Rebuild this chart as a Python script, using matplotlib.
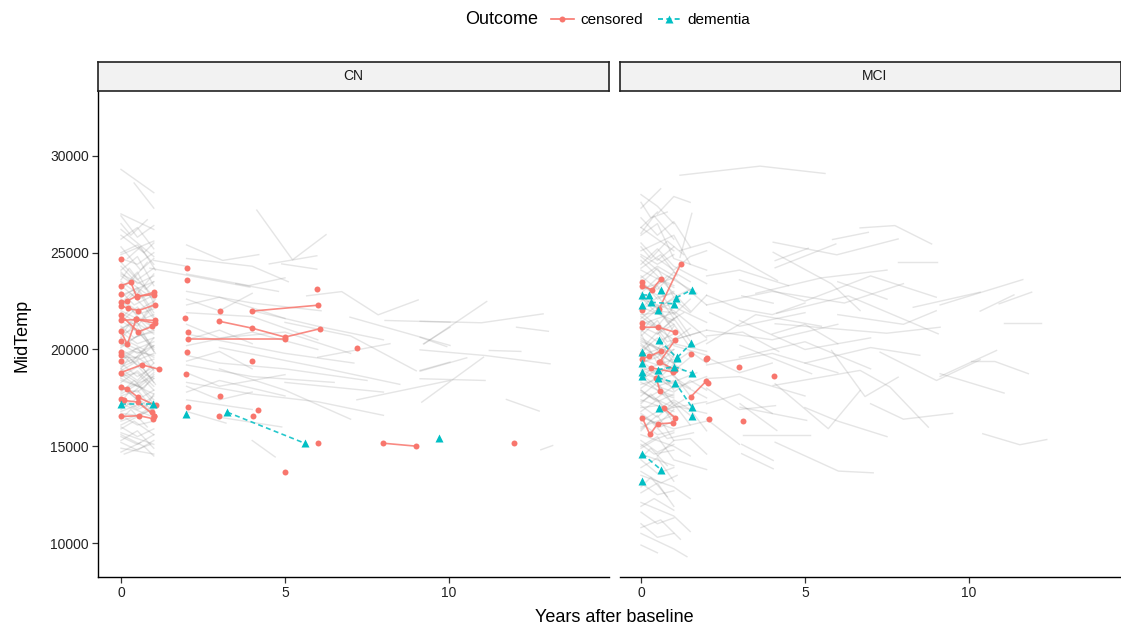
import matplotlib.pyplot as plt
from matplotlib.lines import Line2D

plt.rcParams['font.family'] = ['Liberation Sans', 'DejaVu Sans']

RED = '#F8766D'
TEAL = '#00BFC4'
GREY = '#7f7f7f'

panels = ['CN', 'MCI']
x_ticks = [0, 5, 10]
y_ticks = [10000, 15000, 20000, 25000, 30000]

# grey trajectories, one list of (years, MidTemp) per subject
cn_grey = [
    [(0, 29300), (1.0, 28100)], [(0.4, 28600), (1.0, 27300)],
    [(0, 26900), (0.5, 25800), (1.0, 26400)], [(0, 26200), (1.0, 24800)],
    [(0, 25700), (0.5, 26300), (1.0, 25200)], [(0, 25300), (0.6, 24100), (1.0, 24700)],
    [(0, 24900), (1.0, 25600)], [(0, 24500), (0.5, 23600), (1.0, 24200)],
    [(0, 24100), (0.5, 24800), (1.0, 23300)], [(0, 23800), (1.0, 22600)],
    [(0, 23500), (0.5, 22900), (1.0, 23900)], [(0, 23100), (0.5, 24000), (1.0, 22400)],
    [(0, 22800), (1.0, 23500)], [(0, 22500), (0.5, 21800), (1.0, 22100)],
    [(0, 22200), (0.5, 23100), (1.0, 21700)], [(0, 21900), (1.0, 20800)],
    [(0, 21700), (0.5, 21200), (1.0, 22300)], [(0, 21400), (0.5, 22200), (1.0, 21000)],
    [(0, 21100), (1.0, 21800)], [(0, 20900), (0.5, 20300), (1.0, 20600)],
    [(0, 20600), (0.5, 21400), (1.0, 19900)], [(0, 20400), (1.0, 19600)],
    [(0, 20100), (0.5, 20700), (1.0, 20900)], [(0, 19900), (0.5, 19200), (1.0, 19500)],
    [(0, 19700), (1.0, 20400)], [(0, 19500), (0.5, 20100), (1.0, 18900)],
    [(0, 19300), (0.5, 18600), (1.0, 19100)], [(0, 19100), (1.0, 19800)],
    [(0, 18900), (0.5, 19400), (1.0, 18300)], [(0, 18700), (0.5, 18100), (1.0, 18800)],
    [(0, 18500), (1.0, 17700)], [(0, 18300), (0.5, 18900), (1.0, 18100)],
    [(0, 18100), (0.5, 17400), (1.0, 17900)], [(0, 17900), (1.0, 18600)],
    [(0, 17700), (0.5, 18200), (1.0, 17200)], [(0, 17400), (0.5, 16900), (1.0, 17300)],
    [(0, 17200), (1.0, 16500)], [(0, 16900), (0.5, 17500), (1.0, 16800)],
    [(0, 16600), (0.5, 16100), (1.0, 16300)], [(0, 16300), (1.0, 16900)],
    [(0, 16000), (0.5, 15500), (1.0, 15900)], [(0, 15700), (1.0, 15100)],
    [(0, 15300), (0.5, 15800), (1.0, 14900)], [(0, 14900), (1.0, 14600)],
    [(0.1, 14600), (0.9, 15100)], [(0, 23300), (0.5, 22600), (1.0, 22900)],
    [(0, 22700), (0.5, 23200), (1.0, 21900)], [(0, 21500), (0.5, 20900), (1.0, 21300)],
    [(0, 20800), (0.5, 21100), (1.0, 20100)], [(0, 20300), (0.5, 19800), (1.0, 20200)],
    [(0, 19600), (0.5, 19600), (1.0, 19000)], [(0, 19000), (0.5, 18400), (1.0, 19300)],
    [(0, 18600), (0.5, 18800), (1.0, 17900)], [(0, 18000), (0.5, 17800), (1.0, 18500)],
    [(0, 17500), (0.5, 17000), (1.0, 17600)], [(0, 16700), (0.5, 16600), (1.0, 17100)],
    [(0, 24300), (0.5, 23400), (1.0, 23800)], [(0, 25000), (0.5, 25400), (1.0, 24400)],
    [(0, 27000), (1.0, 26200)], [(0, 15500), (0.5, 15100), (1.0, 15600)],
    [(0, 26500), (0.3, 25900), (0.8, 26700)], [(0, 25900), (0.7, 25000), (1.0, 25500)],
    [(0.2, 24700), (0.6, 25300), (1.05, 24100)], [(0, 24000), (0.3, 23500), (0.8, 24500)],
    [(0, 23600), (0.25, 24200), (0.75, 23100), (1.0, 23500)],
    [(0, 23000), (0.4, 22300), (1.0, 22800)],
    [(0, 22400), (0.3, 22900), (0.7, 22200), (1.0, 21600)],
    [(0, 22000), (0.6, 21500), (1.05, 22600)], [(0, 21600), (0.3, 22100), (0.8, 21100)],
    [(0, 21200), (0.4, 20600), (1.0, 21000)],
    [(0, 20700), (0.25, 21300), (0.75, 20500), (1.0, 20000)],
    [(0, 20200), (0.6, 20800), (1.05, 19800)], [(0, 19800), (0.3, 19300), (0.8, 20200)],
    [(0, 19400), (0.4, 19900), (1.0, 19700)],
    [(0, 19000), (0.25, 19600), (0.75, 18700), (1.0, 18500)],
    [(0, 18600), (0.6, 19200), (1.05, 18200)], [(0, 18200), (0.3, 17700), (0.8, 18400)],
    [(0, 17800), (0.4, 18400), (1.0, 17400)],
    [(0, 17300), (0.25, 17800), (0.75, 17000), (1.0, 17700)],
    [(0, 16800), (0.6, 17200), (1.05, 16600)], [(0, 16400), (0.3, 16900), (0.8, 16000)],
    [(0, 15900), (0.4, 16300), (1.0, 15600)], [(0, 15200), (0.5, 14800), (1.0, 15300)],
    [(0, 14700), (0.6, 15200)], [(0, 21000), (0.5, 21700), (1.0, 21100)],
    [(0, 20000), (0.5, 19500), (1.0, 20600)], [(0, 18800), (0.5, 18300), (1.0, 19000)],
    [(0, 17600), (0.5, 17900), (1.0, 16900)], [(0, 22600), (0.5, 22000), (1.0, 22500)],
    [(0, 24700), (0.5, 24400), (1.0, 25000)], [(0, 19200), (0.7, 19800), (1.0, 20200)],
    [(0, 20600), (0.7, 20000), (1.0, 19300)], [(0, 18400), (0.7, 18000), (1.0, 18700)],
    [(0, 16100), (0.7, 16700), (1.0, 17000)], [(0, 23900), (0.7, 23300), (1.0, 22700)],
    [(0, 15600), (0.7, 15000), (1.0, 14500)],
    [(0.88, 24200), (3.93, 23220)], [(1.0, 24600), (2.0, 24300)],
    [(4.14, 27200), (5.23, 24630), (6.25, 25930)], [(4.52, 24420), (5.97, 24840)],
    [(4.9, 24420), (5.97, 24150)], [(2.0, 25400), (3.1, 24600), (4.2, 24900)],
    [(2.0, 24700), (4.0, 24300), (5.1, 23500)], [(2.0, 23900), (3.9, 23300), (5.0, 23700)],
    [(3.5, 23400), (4.8, 23000)],
    [(5.66, 22770), (6.73, 22990), (7.84, 21790), (9.06, 22560)],
    [(6.98, 21670), (10.03, 20210)], [(8.05, 21500), (10.03, 21410)],
    [(9.22, 20290), (10.03, 21150)], [(9.24, 20290), (11.15, 22480)],
    [(9.12, 21460), (10.99, 21380), (12.87, 21840)], [(12.06, 21150), (13.03, 20940)],
    [(9.12, 20630), (9.93, 20150)], [(9.12, 19980), (11.1, 19690), (13.08, 19260)],
    [(11.23, 19950), (12.19, 19900)], [(9.12, 18880), (10.54, 19570)],
    [(9.12, 18490), (11.1, 18400)], [(9.17, 17280), (11.05, 19600)],
    [(11.75, 17420), (12.75, 16820)], [(12.8, 14820), (13.16, 15040)],
    [(7.19, 17400), (10.03, 18400)], [(9.12, 18920), (10.03, 19350)],
    [(2.0, 23000), (4.0, 22400), (6.1, 22000)], [(2.0, 22300), (3.0, 22700), (5.0, 21600)],
    [(2.0, 21900), (4.0, 21700), (6.0, 20500)],
    [(2.0, 21300), (3.0, 20600), (5.0, 20900), (7.0, 19800)],
    [(2.0, 20800), (5.0, 19800), (7.1, 19300)], [(2.0, 20200), (4.0, 20900), (6.0, 20000)],
    [(2.0, 19700), (3.0, 19300), (5.0, 19000), (7.5, 18400)],
    [(2.0, 19200), (4.0, 18600), (6.5, 18300)], [(2.0, 18800), (3.0, 18100), (5.0, 18700)],
    [(2.0, 18300), (4.0, 17700), (6.0, 17300), (8.0, 16600)],
    [(2.0, 17800), (3.0, 18400), (5.0, 17600)], [(2.0, 17400), (4.0, 16900)],
    [(3.0, 20100), (6.0, 19100), (8.5, 18200)], [(3.0, 19000), (5.0, 17900), (7.0, 16400)],
    [(4.0, 22000), (6.0, 21200), (8.0, 20500)], [(5.0, 21400), (7.0, 20700), (9.0, 18900)],
    [(5.0, 18300), (8.0, 17800)], [(6.0, 19600), (8.2, 20300)],
    [(3.0, 16500), (4.9, 16000)], [(2.0, 16800), (3.2, 16200)],
    [(4.0, 15300), (4.7, 14450)],
    [(2.0, 22600), (3.0, 22000), (4.0, 22900)], [(2.0, 20500), (3.0, 21000), (4.0, 20300)],
    [(2.0, 19400), (3.0, 19900), (4.0, 19000)], [(2.0, 18100), (3.0, 17400), (4.0, 17800)],
]

mci_grey = [
    [(0, 28000), (0.5, 27400), (1.0, 26500)], [(0.0, 27300), (0.6, 28300)],
    [(0, 26800), (0.5, 25900), (1.0, 26600), (1.5, 25300)], [(0, 26300), (1.0, 25100)],
    [(0, 25900), (0.5, 26500), (1.0, 24700), (2.0, 24100)],
    [(0, 25500), (0.5, 24600), (1.0, 25300)], [(0, 25100), (1.0, 25900), (1.5, 24400)],
    [(0, 24800), (0.5, 24100), (1.0, 23600)],
    [(0, 24400), (0.5, 25200), (1.0, 24300), (2.0, 23400)], [(0, 24100), (1.0, 23200)],
    [(0, 23800), (0.5, 23100), (1.0, 24000), (1.5, 23500)],
    [(0, 23400), (0.5, 24200), (1.0, 22700)], [(0, 23100), (1.0, 23700), (2.0, 22300)],
    [(0, 22800), (0.5, 22100), (1.0, 22400)],
    [(0, 22500), (0.5, 23300), (1.0, 21800), (1.5, 22600)], [(0, 22200), (1.0, 21500)],
    [(0, 21900), (0.5, 21200), (1.0, 22200), (2.0, 21400)],
    [(0, 21600), (0.5, 22300), (1.0, 20900)], [(0, 21300), (1.0, 21900), (1.5, 20700)],
    [(0, 21000), (0.5, 20400), (1.0, 20800)],
    [(0, 20700), (0.5, 21500), (1.0, 20200), (2.0, 19700)], [(0, 20400), (1.0, 19800)],
    [(0, 20200), (0.5, 19600), (1.0, 20500), (1.5, 21100)],
    [(0, 19900), (0.5, 20600), (1.0, 19300)], [(0, 19700), (1.0, 20300), (2.0, 19900)],
    [(0, 19400), (0.5, 18800), (1.0, 19100)],
    [(0, 19200), (0.5, 19900), (1.0, 18600), (1.5, 18000)], [(0, 18900), (1.0, 19500)],
    [(0, 18700), (0.5, 18100), (1.0, 18400), (2.0, 17500)],
    [(0, 18400), (0.5, 19000), (1.0, 17900)], [(0, 18200), (1.0, 18700), (1.5, 17600)],
    [(0, 17900), (0.5, 17300), (1.0, 17700)],
    [(0, 17600), (0.5, 18300), (1.0, 17100), (2.0, 16700)], [(0, 17400), (1.0, 16800)],
    [(0, 17100), (0.5, 16500), (1.0, 17300), (1.5, 16600)],
    [(0, 16800), (0.5, 17400), (1.0, 16200)], [(0, 16500), (1.0, 15900), (2.0, 16300)],
    [(0, 16200), (0.5, 15600), (1.0, 15800)], [(0, 15900), (0.5, 16600), (1.0, 15300)],
    [(0, 15600), (1.0, 15000), (1.5, 14500)], [(0, 15300), (0.5, 14700), (1.0, 15100)],
    [(0, 15000), (0.5, 15500), (1.0, 14300), (2.0, 13800)], [(0, 14600), (1.0, 14000)],
    [(0, 14300), (0.5, 13600), (1.0, 13900)], [(0, 13900), (0.5, 14400), (1.0, 13200)],
    [(0, 13500), (1.0, 12900), (1.5, 12300)], [(0, 13100), (0.5, 12500), (1.0, 12700)],
    [(0, 12600), (0.5, 13100), (1.0, 11900)], [(0, 12100), (1.0, 11400), (1.5, 10600)],
    [(0, 11600), (0.5, 11000), (1.0, 11300)], [(0, 11000), (0.5, 10300), (1.0, 10500)],
    [(0, 10500), (1.0, 9700), (1.4, 9300)], [(0.0, 9900), (0.5, 9500)],
    [(0, 23600), (0.5, 22600), (1.0, 23000)], [(0, 22900), (0.5, 23700), (1.0, 23300)],
    [(0, 22000), (0.5, 22700), (1.0, 22900)], [(0, 21200), (0.5, 20800), (1.0, 21600)],
    [(0, 20500), (0.5, 20000), (1.0, 21200)], [(0, 20000), (0.5, 20900), (1.0, 19700)],
    [(0, 19300), (0.5, 19600), (1.0, 18800)], [(0, 18800), (0.5, 18500), (1.0, 19700)],
    [(0, 18000), (0.5, 18600), (1.0, 18200)], [(0, 17300), (0.5, 17800), (1.0, 17500)],
    [(0, 16700), (0.5, 16100), (1.0, 16900)], [(0, 16000), (0.5, 16300), (1.0, 16600)],
    [(0, 22600), (1.0, 22000), (2.0, 20600)], [(0, 21700), (1.0, 20500), (2.0, 21000)],
    [(0, 19000), (1.0, 18000), (2.0, 18600)], [(0, 17800), (1.0, 17000), (2.0, 17300)],
    [(0, 24600), (0.5, 23800), (1.5, 22000)],
    [(0, 23300), (0.5, 22800), (1.0, 21600), (1.6, 20200)],
    [(0, 20800), (0.5, 19300), (1.0, 18900), (1.5, 19600)],
    [(0.5, 27000), (1.0, 27900), (1.5, 27600)],
    [(0, 27600), (0.3, 26800), (0.8, 27100)], [(0, 26000), (0.4, 26900), (1.0, 25700)],
    [(0, 25300), (0.3, 24700), (0.8, 25600), (1.3, 24900)],
    [(0, 24200), (0.6, 24900), (1.1, 23800)],
    [(0, 23500), (0.3, 23000), (0.8, 23800), (1.7, 22900)],
    [(0, 22700), (0.4, 22000), (1.0, 21900)],
    [(0, 22100), (0.3, 22600), (0.8, 21400), (1.3, 21900)],
    [(0, 21500), (0.6, 21000), (1.1, 21700)],
    [(0, 20900), (0.3, 21500), (0.8, 20400), (1.8, 20900)],
    [(0, 20300), (0.4, 19700), (1.0, 20000)],
    [(0, 19800), (0.3, 20300), (0.8, 19500), (1.3, 18900)],
    [(0, 19100), (0.6, 18600), (1.1, 19400)],
    [(0, 18500), (0.3, 19000), (0.8, 18200), (1.7, 18800)],
    [(0, 17900), (0.4, 17400), (1.0, 18100)],
    [(0, 17200), (0.3, 17700), (0.8, 16900), (1.3, 17400)],
    [(0, 16600), (0.6, 16000), (1.1, 16400)],
    [(0, 15800), (0.3, 16300), (0.8, 15400), (1.6, 15700)],
    [(0, 15100), (0.4, 14600), (1.0, 14800)], [(0, 14400), (0.3, 14900), (0.8, 14000)],
    [(0, 13700), (0.6, 13100), (1.1, 13500)], [(0, 12900), (0.3, 13400), (0.8, 12400)],
    [(0, 11900), (0.4, 12300), (1.0, 11700)], [(0, 10800), (0.6, 11200), (1.2, 10200)],
    [(0, 24900), (0.5, 24400), (1.0, 24900)], [(0, 23700), (0.5, 24300), (1.0, 23800)],
    [(0, 21800), (0.5, 21900), (1.0, 21300)], [(0, 20600), (0.5, 20100), (1.0, 19600)],
    [(0, 19500), (0.5, 19200), (1.0, 20000)], [(0, 18300), (0.5, 17900), (1.0, 17600)],
    [(0, 17000), (0.5, 17100), (1.0, 16500)], [(0, 16300), (0.5, 16800), (1.0, 17000)],
    [(0, 14900), (0.5, 15400), (1.0, 15700)],
    [(0.5, 22200), (1.0, 22600), (1.5, 21900), (2.0, 22800)],
    [(0.5, 20800), (1.0, 21300), (1.5, 20100), (2.0, 20500)],
    [(0.5, 19800), (1.0, 19300), (1.5, 19900), (2.0, 19300)],
    [(0.5, 18100), (1.0, 17800), (1.5, 18400), (2.0, 17900)],
    [(0.5, 16900), (1.0, 17400), (1.5, 16900), (2.0, 15800)],
    [(0.5, 24700), (1.0, 24100), (1.5, 24800), (2.0, 25100)],
    [(0.5, 14500), (1.0, 15300), (1.5, 15400), (2.0, 14600)],
    [(0, 26300), (0.5, 27100)], [(0, 21400), (1.0, 22700), (1.5, 23100)],
    [(0, 18600), (1.0, 17200), (1.5, 16100)],
    [(1.19, 29000), (3.63, 29470), (5.61, 29090)], [(1.19, 24760), (1.55, 27030)],
    [(1.19, 25110), (2.08, 25540), (4.16, 23560)],
    [(4.03, 25540), (5.97, 24890), (7.84, 25710)],
    [(6.68, 26280), (7.74, 26400), (8.86, 25450)], [(5.84, 25680), (6.93, 26050)],
    [(4.09, 24590), (5.1, 25230)], [(4.09, 24220), (5.94, 25450)],
    [(4.03, 25020), (5.81, 23390), (6.68, 22010)], [(7.84, 24500), (9.01, 24500)],
    [(3.07, 22770), (4.03, 22390)], [(4.14, 21870), (6.32, 22770), (9.06, 20810)],
    [(8.3, 22180), (10.34, 22960)], [(4.09, 21330), (7.49, 20840), (9.12, 21150)],
    [(9.12, 22300), (11.64, 23610)], [(10.34, 21980), (11.37, 22820)],
    [(10.92, 22360), (11.91, 22960)], [(11.08, 21360), (12.19, 21360)],
    [(9.12, 18610), (10.84, 19950)], [(10.08, 19380), (10.79, 19380), (11.81, 18750)],
    [(9.12, 18750), (11.07, 17750)], [(10.42, 15650), (11.55, 15080), (12.37, 15350)],
    [(3.02, 20210), (5.2, 18750)], [(7.29, 19860), (9.01, 18400), (10.34, 19470)],
    [(5.81, 19950), (6.83, 17570), (7.84, 18570)],
    [(4.03, 18140), (6.68, 18920), (7.59, 18060), (8.76, 15990)],
    [(4.09, 18230), (5.71, 15910), (6.68, 17880)], [(3.02, 17200), (4.14, 15820)],
    [(3.02, 17020), (5.05, 16340)], [(4.09, 15210), (6.02, 13720), (7.08, 13630)],
    [(3.12, 15600), (5.15, 15600)], [(3.07, 15100), (4.03, 14270)],
    [(3.07, 14620), (4.03, 13840)], [(2.0, 21000), (4.0, 20500), (6.0, 21300)],
    [(2.0, 20300), (3.5, 21800), (5.5, 21200)], [(3.0, 21500), (5.0, 20000), (7.0, 20600)],
    [(2.0, 22300), (4.0, 23000), (6.2, 22400), (8.0, 23400)],
    [(3.0, 23600), (5.0, 22500), (7.0, 23800), (9.0, 22700)],
    [(3.0, 19600), (5.0, 20400), (7.0, 19000)], [(2.0, 19200), (4.0, 19800), (6.0, 18800)],
    [(5.0, 19300), (7.0, 20100), (8.5, 19700)], [(6.0, 21800), (8.0, 21300), (9.0, 22000)],
    [(2.0, 18000), (3.0, 16900), (4.1, 17100)], [(6.0, 23500), (7.5, 22600)],
    [(7.0, 17200), (8.0, 16400), (9.5, 16700)], [(2.0, 16400), (3.0, 15100)],
    [(2.0, 23800), (3.0, 24100), (4.5, 23300)],
    [(2.0, 22800), (3.0, 22100), (4.0, 21800), (5.0, 22400)],
    [(2.1, 21900), (3.0, 21200), (5.0, 21900)], [(2.0, 20700), (3.1, 20900), (4.2, 19900)],
    [(2.0, 19600), (3.0, 18800), (4.0, 19300)], [(2.0, 18500), (3.0, 18600), (5.0, 17600)],
    [(2.0, 17200), (3.0, 17700), (4.0, 16700)], [(4.0, 20800), (5.0, 21300), (6.0, 20300)],
    [(3.5, 22900), (5.5, 23700), (7.5, 24100)], [(5.0, 17000), (6.0, 16300), (7.5, 15500)],
]

cn_censored = [
    [(0, 24680)], [(0, 23300), (0.3, 23470), (0.48, 22700), (1.02, 22960)],
    [(0, 22870)], [(0, 22440), (0.17, 22490), (0.48, 22760), (1.02, 22840)],
    [(0, 22270), (0.2, 22130), (0.53, 22010), (1.04, 22310)],
    [(0, 21500), (0.46, 21550), (1.04, 21500)], [(0, 21760), (0.53, 20910), (0.95, 21190)],
    [(0, 20950), (0.19, 20260), (0.46, 21550), (1.04, 21360)], [(0, 20430)],
    [(0, 19860)], [(0, 19690)], [(0, 19430)],
    [(0, 18810), (0.63, 19210), (1.16, 18980)],
    [(0, 18050), (0.19, 17970), (0.51, 17540), (1.06, 17110)], [(0, 17450)],
    [(0.1, 17370), (0.51, 17280), (1.02, 16590)],
    [(0, 16540), (0.56, 16580), (0.99, 16420)], [(0.95, 16760), (1.02, 16590)],
    [(2.0, 24200)], [(2.0, 23580)], [(1.96, 21620)], [(2.04, 20880)],
    [(2.03, 20520), (4.99, 20520)], [(2.0, 19880)], [(1.97, 18710)], [(2.04, 17020)],
    [(3.02, 22010)], [(2.99, 21460), (4.0, 21100), (5.0, 20640), (6.06, 21070)],
    [(3.98, 21980), (6.02, 22290)], [(5.97, 23110)], [(7.2, 20090)], [(3.99, 19430)],
    [(3.02, 17610)], [(2.98, 16560)], [(4.01, 16560)], [(4.19, 16850)], [(6.0, 15160)],
    [(4.99, 13690)], [(7.99, 15160), (8.98, 15010)], [(11.99, 15150)],
]
cn_dementia = [
    [(0, 17200), (0.99, 17200)], [(1.97, 16680)], [(3.24, 16760), (5.6, 15160)],
    [(9.7, 15440)],
]

mci_censored = [
    [(0.55, 22080), (1.21, 24420)], [(0.04, 23510)],
    [(0.04, 23290), (0.33, 23080), (0.6, 23630)], [(0.04, 22050)], [(0.04, 21360)],
    [(0.04, 21150), (0.53, 21150), (1.04, 20890)], [(0.56, 19330), (1.04, 20500)],
    [(0.04, 19520), (0.25, 19640), (0.6, 19910)], [(0.04, 19780)],
    [(0.3, 19060), (0.99, 18830)], [(0.58, 19340), (1.04, 18950)],
    [(0.46, 18540), (0.58, 17850)], [(1.52, 19760)], [(1.98, 19500)], [(2.02, 19540)],
    [(3.0, 19090)], [(4.06, 18640)], [(1.52, 17560), (1.98, 18350)], [(2.04, 18260)],
    [(0.04, 16470), (0.27, 15610), (0.51, 16160), (0.99, 16210)],
    [(0.7, 16970), (1.04, 16470)], [(2.07, 16420)], [(3.1, 16330)],
]
mci_dementia = [
    [(0.04, 22790), (0.25, 22790)], [(0.6, 23080)], [(1.07, 22670), (1.55, 23080)],
    [(0.04, 22320)], [(0.3, 22440), (1.02, 22360)], [(0.53, 22050)],
    [(0.55, 20500), (1.09, 19570)], [(1.11, 19590), (1.52, 20310)], [(0.04, 19860)],
    [(0.04, 19290)], [(0.04, 18830)], [(0.04, 18610)],
    [(0.51, 18540), (1.05, 18280), (1.55, 17020)],
    [(0.51, 18950), (1.0, 19120), (1.55, 18780)], [(1.55, 16560)], [(0.56, 16970)],
    [(0.04, 14610), (0.61, 13790)], [(0.04, 13190)],
]

panel_data = {
    'CN': (cn_grey, cn_censored, cn_dementia),
    'MCI': (mci_grey, mci_censored, mci_dementia),
}

W, H = 1121, 629
fig = plt.figure(figsize=(W / 100, H / 100), dpi=100)

# panel boxes in pixels
boxes = {'CN': (98, 609), 'MCI': (620, 1121)}
top_px, bot_px, strip_px = 91, 577, 62
x0_px = {'CN': 121, 'MCI': 641}
unit_px = 32.8


def draw_panel(ax, grey, cens, dem):
    for tr in grey:
        xs, ys = zip(*tr)
        ax.plot(xs, ys, color=GREY, alpha=0.2, lw=1.0, zorder=1)
    for tr in cens:
        xs, ys = zip(*tr)
        ax.plot(xs, ys, color=RED, lw=1.2, alpha=0.85, zorder=3)
        ax.plot(xs, ys, ls='none', marker='o', ms=4.3, color=RED, mec='none', zorder=4)
    for tr in dem:
        xs, ys = zip(*tr)
        ax.plot(xs, ys, color=TEAL, lw=1.2, ls=(0, (3, 2)), alpha=0.85, zorder=3)
        ax.plot(xs, ys, ls='none', marker='^', ms=5.5, color=TEAL, mec='none', zorder=4)


for name in panels:
    l, r = boxes[name]
    ax = fig.add_axes([l / W, 1 - bot_px / H, (r - l) / W, (bot_px - top_px) / H])
    grey, cens, dem = panel_data[name]
    draw_panel(ax, grey, cens, dem)
    x0 = x0_px[name]
    ax.set_xlim((l - x0) / unit_px, (r - x0) / unit_px)
    ax.set_ylim(8250, 33350)
    ax.set_xticks(x_ticks)
    ax.set_yticks(y_ticks)
    for s in ['top', 'right']:
        ax.spines[s].set_visible(False)
    ax.spines['bottom'].set_linewidth(1.0)
    ax.spines['left'].set_linewidth(1.0)
    ax.tick_params(direction='out', length=4, width=0.9, color='#333333',
                   labelcolor='#222222', labelsize=10, pad=2.5)
    if name == 'MCI':
        ax.spines['left'].set_visible(False)
        ax.tick_params(axis='y', left=False, labelleft=False)

    sax = fig.add_axes([l / W, 1 - top_px / H, (r - l) / W, (top_px - strip_px) / H])
    sax.set_facecolor('#F2F2F2')
    sax.set_xticks([])
    sax.set_yticks([])
    for s in sax.spines.values():
        s.set_linewidth(1.2)
        s.set_color('#222222')
    cx = 0.5 if name == 'CN' else (875 - l) / (r - l)
    sax.text(cx, 0.5, name, ha='center', va='center', fontsize=10, color='#1a1a1a',
             transform=sax.transAxes)

fig.text(22 / W, 1 - 335 / H, 'MidTemp', rotation=90, ha='center', va='center', fontsize=13)
fig.text(614 / W, 1 - 617 / H, 'Years after baseline', ha='center', va='center', fontsize=13)

fig.text(465 / W, 1 - 20 / H, 'Outcome', ha='left', va='center', fontsize=13)
handles = [
    Line2D([], [], color=RED, lw=1.2, marker='o', ms=4.3, mec='none'),
    Line2D([], [], color=TEAL, lw=1.2, ls=(0, (3, 2)), marker='^', ms=5.5, mec='none'),
]
fig.legend(handles, ['censored', 'dementia'], loc='center left',
           bbox_to_anchor=(551 / W, 1 - 20 / H), ncol=2, frameon=False,
           fontsize=11, handlelength=1.5, handletextpad=0.4, columnspacing=1.0,
           borderpad=0, borderaxespad=0)

fig.savefig('out.png', dpi=100)
